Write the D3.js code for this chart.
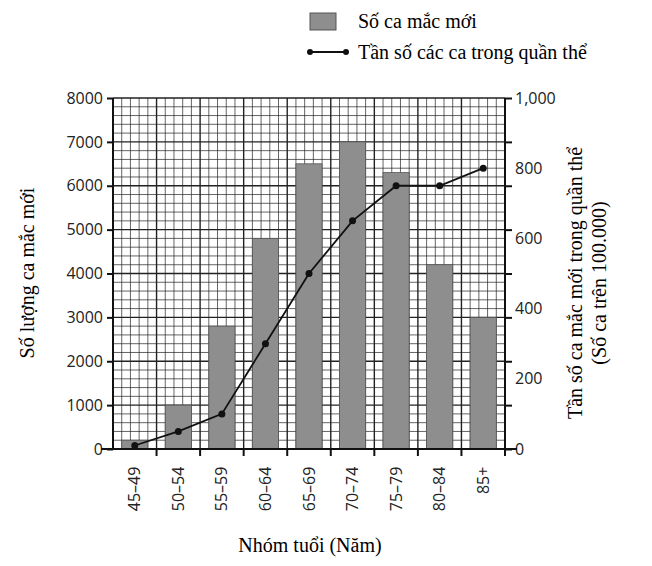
<!DOCTYPE html><html><head><meta charset="utf-8"><script src="https://cdn.jsdelivr.net/npm/d3@7"></script>
<style>body{margin:0;background:#fff}</style></head><body><svg id="c" width="652" height="566"></svg><script>
const categories=["45–49","50–54","55–59","60–64","65–69","70–74","75–79","80–84","85+"];
const newCases=[200,1000,2800,4800,6500,7000,6300,4200,3000];
const rate=[10,50,100,300,500,650,750,750,800];
const leftTicks=[0,1000,2000,3000,4000,5000,6000,7000,8000];
const rightTicks=[0,200,400,600,800,1000];
const svg=d3.select("#c");
const L=113,R=505,T=98,B=449;
const x=d3.scaleBand().domain(categories).range([L,R]);
const yL=d3.scaleLinear().domain([0,8000]).range([B,T]);
const yR=d3.scaleLinear().domain([0,1000]).range([B,T]);
const g=svg.append("g");
const bw=x.bandwidth();
for(let i=0;i<=45;i++){const xx=L+i*bw/5;g.append("line").attr("x1",xx).attr("x2",xx).attr("y1",T).attr("y2",B).attr("stroke","#222").attr("stroke-width",i%5==0?1.4:0.7);}
for(let v=0;v<=8000;v+=200){g.append("line").attr("x1",L).attr("x2",R).attr("y1",yL(v)).attr("y2",yL(v)).attr("stroke","#222").attr("stroke-width",v%1000==0?1.4:0.7);}
g.selectAll("rect.b").data(newCases).join("rect").attr("x",(d,i)=>x(categories[i])+bw*0.2).attr("width",bw*0.6).attr("y",d=>yL(d)).attr("height",d=>B-yL(d)).attr("fill","#8e8e8e").attr("stroke","#555").attr("stroke-width",0.8);
const la=d3.axisLeft(yL).tickValues(leftTicks).tickSize(6).tickPadding(4).tickFormat(d3.format("d"));
const ax1=svg.append("g").attr("transform",`translate(${L},0)`).call(la);
const ra=d3.axisRight(yR).tickValues(d3.range(0,1001,125)).tickSize(7).tickFormat("");
const ax2=svg.append("g").attr("transform",`translate(${R},0)`).call(ra);
const ax2b=svg.append("g").attr("transform",`translate(${R},0)`).call(d3.axisRight(yR).tickValues(rightTicks).tickSize(0).tickPadding(10));
ax2b.select("path").remove();
const ba=d3.axisBottom(x).tickSize(7).tickPadding(4);
const ax3=svg.append("g").attr("transform",`translate(0,${B})`).call(ba);
ax3.selectAll(".tick line").attr("transform",`translate(${bw/2},0)`);
ax3.selectAll("text").attr("text-anchor","end").attr("dx","-0.6em").attr("dy","0.35em").attr("x",0).attr("y",0).attr("transform","translate(0,8) rotate(-90)");
[ax1,ax2,ax2b,ax3].forEach(a=>{a.selectAll("path,line").attr("stroke","#111").attr("stroke-width",2);a.selectAll("text").attr("font-family","Open Sans, sans-serif").attr("font-size",16).attr("fill","#222");});
ax1.select("path").attr("d",`M0,${T}V${B}`);ax2.select("path").attr("d",`M0,${T}V${B}`);
ax3.select("path").attr("d",`M${L-12},0H${R+12}`);
const line=d3.line().x((d,i)=>x(categories[i])+bw/2).y(d=>yR(d));
svg.append("path").datum(rate).attr("d",line).attr("fill","none").attr("stroke","#111").attr("stroke-width",1.8);
svg.selectAll("circle.p").data(rate).join("circle").attr("cx",(d,i)=>x(categories[i])+bw/2).attr("cy",d=>yR(d)).attr("r",3.5).attr("fill","#111");
const serif="Liberation Serif, serif";
svg.append("text").attr("x",310).attr("y",552).attr("text-anchor","middle").attr("font-family",serif).attr("font-size",20).text("Nhóm tuổi (Năm)");
svg.append("text").attr("transform","translate(34,273) rotate(-90)").attr("text-anchor","middle").attr("font-family",serif).attr("font-size",20).text("Số lượng ca mắc mới");
svg.append("text").attr("transform","translate(582,283) rotate(-90)").attr("text-anchor","middle").attr("font-family",serif).attr("font-size",20).text("Tần số ca mắc mới trong quần thể");
svg.append("text").attr("transform","translate(606,283) rotate(-90)").attr("text-anchor","middle").attr("font-family",serif).attr("font-size",20).text("(Số ca trên 100.000)");
svg.append("rect").attr("x",310).attr("y",13).attr("width",26).attr("height",17).attr("fill","#8e8e8e").attr("stroke","#555");
svg.append("text").attr("x",358).attr("y",28).attr("font-family",serif).attr("font-size",20).text("Số ca mắc mới");
svg.append("line").attr("x1",310).attr("x2",346).attr("y1",52).attr("y2",52).attr("stroke","#111").attr("stroke-width",1.8);
[310,346].forEach(cx=>svg.append("circle").attr("cx",cx).attr("cy",52).attr("r",3).attr("fill","#111"));
svg.append("text").attr("x",358).attr("y",59).attr("font-family",serif).attr("font-size",20).text("Tần số các ca trong quần thể");
</script></body></html>
